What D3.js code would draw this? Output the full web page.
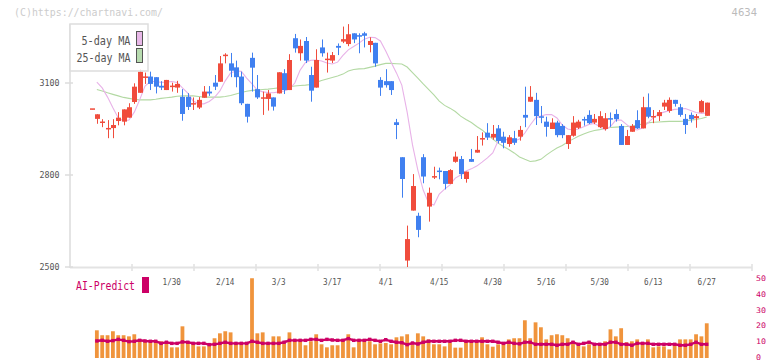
<!DOCTYPE html>
<html><head><meta charset="utf-8">
<script src="https://cdn.jsdelivr.net/npm/d3@7"></script>
<style>html,body{margin:0;padding:0;background:#fff;}svg{display:block;}</style>
</head><body>
<svg id="c" width="772" height="361"></svg>
<script>
const dates = ["1/8","1/9","1/10","1/14","1/15","1/16","1/17","1/20","1/21","1/22","1/23","1/24","1/27","1/28","1/29","1/30","1/31",
"2/3","2/4","2/5","2/6","2/7","2/10","2/12","2/13","2/14","2/17","2/18","2/19","2/20","2/21","2/25","2/26","2/27","2/28",
"3/3","3/4","3/5","3/6","3/7","3/10","3/11","3/12","3/13","3/14","3/17","3/18","3/19","3/21","3/24","3/25","3/26","3/27","3/28","3/31",
"4/1","4/2","4/3","4/4","4/7","4/8","4/9","4/10","4/11","4/14","4/15","4/16","4/17","4/18","4/21","4/22","4/23","4/24","4/25","4/28","4/30",
"5/1","5/2","5/7","5/8","5/9","5/12","5/13","5/14","5/15","5/16","5/19","5/20","5/21","5/22","5/23","5/26","5/27","5/28","5/29","5/30",
"6/2","6/3","6/4","6/5","6/6","6/9","6/10","6/11","6/12","6/13","6/16","6/17","6/18","6/19","6/20","6/23","6/24","6/25","6/26","6/27"];
const openP  = [3014,2983,2969,2948,2953,2976,2974,2987,3038,3068,3117,3121,3119,3091,3077,3087,3085,3055,3055,3030,3020,3052,3072,3101,3104,3188,3164,3151,3121,3032,
3182,3080,3049,3048,3053,3066,3132,3077,3246,3197,3237,3126,3085,3216,3173,3173,3221,3235,3227,3262,3256,3262,3224,3231,3110,3106,3106,2972,2858,2521,
2684,2667,2858,2697,2792,2812,2813,2771,2843,2852,2787,2852,2873,2916,2938,2922,2952,2925,2901,2920,2925,2996,3039,3045,2989,2974,2950,2971,2960,2901,
2928,2954,2980,2996,2971,2956,2950,2983,2999,2960,2898,2941,2979,2952,3021,2987,2992,3023,3009,3045,3021,2983,2996,2985,3004,2993];
const highP  = [3015,2998,2982,2979,2982,3005,3014,3034,3099,3145,3134,3137,3119,3106,3110,3101,3107,3080,3067,3053,3054,3090,3090,3126,3188,3197,3198,3173,3137,3032,
3199,3126,3072,3077,3053,3135,3145,3194,3260,3242,3250,3153,3210,3242,3199,3201,3229,3284,3292,3262,3262,3267,3249,3231,3119,3145,3106,2983,2858,2635,
2803,2677,2868,2759,2827,2824,2813,2819,2876,2862,2811,2885,2927,2939,2969,2963,2963,2941,2930,2944,2960,3088,3090,3068,3025,2990,2985,2977,2966,2930,
2992,2980,2990,3011,2999,3008,3002,3004,3014,2966,2947,2966,3011,3055,3066,3012,3012,3045,3053,3045,3032,2999,3004,2999,3045,3036];
const lowP   = [3014,2967,2956,2920,2920,2962,2962,2987,3032,3068,3097,3077,3066,3077,3077,3072,3068,2977,3012,3012,3015,3052,3058,3077,3104,3164,3119,3086,3028,2971,
3072,3048,2996,3010,3010,3066,3064,3077,3199,3173,3165,3039,3085,3186,3134,3165,3191,3230,3220,3230,3197,3216,3200,3153,3058,3085,3061,2917,2726,2500,
2684,2597,2773,2648,2787,2786,2753,2771,2840,2787,2775,2843,2873,2896,2914,2915,2903,2887,2892,2898,2912,2956,3039,2963,2969,2925,2950,2923,2920,2885,
2925,2950,2961,2966,2966,2953,2945,2957,2974,2898,2898,2941,2950,2952,2985,2969,2976,3012,3003,3023,2990,2934,2971,2954,3004,2993];
const closeP = [3015,2998,2972,2951,2963,2987,3014,3021,3088,3137,3119,3097,3088,3085,3110,3089,3097,2999,3022,3032,3045,3072,3066,3088,3164,3190,3140,3119,3034,2990,
3150,3053,3051,3066,3023,3135,3077,3175,3213,3221,3173,3075,3175,3197,3177,3191,3215,3243,3259,3242,3251,3254,3237,3164,3085,3093,3077,2963,2787,2591,
2764,2621,2795,2742,2794,2808,2771,2816,2860,2803,2811,2843,2882,2918,2922,2934,2911,2905,2923,2905,2947,2987,3055,2992,2987,2957,2971,2930,2930,2930,
2971,2974,2978,2969,2983,2992,2985,2980,2982,2898,2927,2960,2952,3021,2990,2990,3005,3036,3045,3032,2996,2963,2982,2992,3041,3036];
const ma5 = [null,3103,3084,3054,3019,2986,2976,2979,3005,3045,3090,3105,3105,3102,3103,3105,3102,3084,3067,3041,3032,3032,3040,3053,3074,3107,3133,3139,3138,3116,
3097,3077,3071,3069,3068,3071,3074,3080,3100,3142,3167,3174,3175,3172,3165,3162,3168,3190,3208,3219,3230,3243,3249,3248,3237,3204,3168,3133,3093,3005,
2898,2816,2751,2709,2702,2738,2754,2768,2790,2800,2813,2820,2829,2842,2856,2872,2911,2917,2914,2911,2917,2937,2963,2986,2992,2997,2997,2986,2963,2950,
2947,2950,2957,2965,2968,2958,2947,2958,2979,2979,2965,2950,2947,2953,2970,2986,2999,3005,3010,3014,3015,3017,3010,3004,3001,3002];
const ma25 = [null,3079,3074,3068,3063,3058,3053,3050,3047,3045,3045,3045,3047,3050,3052,3054,3057,3058,3058,3058,3056,3054,3054,3054,3054,3056,3059,3064,3069,3073,
3076,3077,3079,3080,3082,3084,3086,3088,3090,3092,3093,3095,3102,3108,3113,3118,3123,3129,3139,3144,3146,3147,3151,3155,3160,3164,3164,3163,3162,3152,
3134,3116,3097,3079,3061,3041,3027,3018,3007,2992,2981,2971,2958,2947,2932,2917,2904,2893,2883,2872,2859,2851,2844,2846,2851,2865,2877,2888,2896,2908,
2917,2926,2934,2940,2945,2948,2952,2955,2956,2957,2958,2960,2963,2966,2970,2972,2973,2974,2975,2975,2975,2976,2979,2981,2984,2989];
const volume = [null,17.4,14.3,14.3,16.8,14.3,14.3,13.6,14.9,11.7,10.5,10.5,9.8,10.5,9.2,6.7,6.7,19.9,10.5,9.2,7.3,7.3,9.2,12.4,15.5,16.8,16.1,9.2,9.2,9.8,
50.1,15.5,16.1,9.2,13.6,13.6,9.2,16.1,11.1,10.5,8.0,10.5,14.9,8.6,6.7,8.0,8.0,11.7,14.9,6.7,10.5,11.7,10.5,8.6,9.2,9.4,8.6,13.0,13.6,14.9,
8.4,15.5,13.6,11.7,8.6,8.6,7.3,9.4,6.5,6.5,9.9,9.9,9.9,13.0,8.6,7.1,8.6,9.6,11.7,12.4,12.4,23.7,12.4,22.4,19.3,11.7,14.3,14.9,14.3,12.4,
10.5,8.6,7.3,8.6,8.0,8.0,10.5,18.0,13.6,18.7,9.9,10.5,11.7,9.9,11.7,6.7,7.3,7.3,5.4,8.0,11.7,11.7,11.7,14.9,13.6,21.8];
const aiPredict = [null,10.7,11.1,10.5,10.9,11.7,11.1,10.3,10.5,11.1,10.7,10.5,10.5,9.2,9.9,9.2,9.2,10.1,9.9,9.2,9.2,9.2,8.4,8.6,9.2,9.9,9.2,9.2,9.2,9.2,
10.5,9.9,9.2,9.2,9.2,9.2,9.9,11.1,11.1,11.1,11.1,11.7,11.7,11.1,11.7,11.3,11.1,11.1,12.2,11.1,11.1,11.1,11.7,11.1,10.5,11.5,10.5,9.9,9.6,8.4,
9.4,8.8,9.9,10.5,10.5,10.5,10.5,10.5,11.1,11.1,10.5,10.5,10.5,10.5,10.5,10.5,9.9,9.2,9.9,9.2,8.9,9.9,9.9,8.6,8.6,8.6,8.6,8.0,8.6,8.6,
9.9,8.6,9.2,9.9,8.6,8.6,8.6,9.9,9.9,8.6,8.6,8.0,9.2,9.2,9.2,8.6,8.6,8.6,8.6,8.6,8.0,8.0,8.6,9.9,8.6,8.6];
const dateTicks = ["1/30","2/14","3/3","3/17","4/1","4/15","4/30","5/16","5/30","6/13","6/27"];
const priceTicks = [2500, 2800, 3100];
const volTicks = [0, 10, 20, 30, 40, 50];

const svg = d3.select("#c");
const RED = "#f04c3c", BLUE = "#4080f0", AI = "#cc0066";
const x = d3.scalePoint().domain(dates).range([91.5, 706.75]);
const y = d3.scaleLinear().domain([2500, 3100]).range([267, 83]);
const yv = d3.scaleLinear().domain([0, 50]).range([358, 278.4]);
const gridX = d3.scaleLinear().domain([0, 11]).range([70, 752]);
const mono = "'DejaVu Sans Mono', monospace";

// watermark and code
svg.append("text").attr("x", 14).attr("y", 16).attr("fill", "#cccccc").attr("font-family", mono)
  .attr("font-size", 11).attr("textLength", 149).attr("lengthAdjust", "spacingAndGlyphs").text("(C)https://chartnavi.com/");
svg.append("text").attr("x", 757).attr("y", 16).attr("text-anchor", "end").attr("fill", "#bbbbbb")
  .attr("font-family", "'DejaVu Sans', sans-serif").attr("font-size", 10).text("4634");

// axes
const axisG = svg.append("g");
axisG.append("line").attr("x1", 70).attr("x2", 70).attr("y1", 24).attr("y2", 268).attr("stroke", "#e0e0e0").attr("stroke-width", 1.7);
axisG.append("line").attr("x1", 70).attr("x2", 752).attr("y1", 267.5).attr("y2", 267.5).attr("stroke", "#e3e3e3").attr("stroke-width", 2);
axisG.selectAll(".gt").data(d3.range(1, 12)).join("line")
  .attr("x1", d => gridX(d)).attr("x2", d => gridX(d)).attr("y1", 264).attr("y2", 271)
  .attr("stroke", "#e3e3e3").attr("stroke-width", 1.6);
axisG.selectAll(".pt").data(priceTicks).join("line")
  .attr("x1", 65).attr("x2", 73).attr("y1", d => y(d)).attr("y2", d => y(d)).attr("stroke", "#dddddd").attr("stroke-width", 1.5);
axisG.selectAll(".pl").data(priceTicks).join("text")
  .attr("x", 59.5).attr("y", d => y(d) + 2.8).attr("text-anchor", "end").attr("fill", "#555")
  .attr("font-family", mono).attr("font-size", 8).attr("textLength", 20).attr("lengthAdjust", "spacingAndGlyphs").text(d => d);
axisG.selectAll(".dl").data(dateTicks).join("text")
  .attr("x", d => x(d)).attr("y", 285).attr("text-anchor", "middle").attr("fill", "#555")
  .attr("font-family", mono).attr("font-size", 8).attr("textLength", d => d.length * 4.6).attr("lengthAdjust", "spacingAndGlyphs").text(d => d);
axisG.selectAll(".vl").data(volTicks).join("text")
  .attr("x", 756).attr("y", d => yv(d) + 2.3).attr("fill", AI)
  .attr("font-family", mono).attr("font-size", 7.6).attr("textLength", d => String(d).length * 5).attr("lengthAdjust", "spacingAndGlyphs").text(d => d);

// volume bars
const vg = svg.append("g");
vg.selectAll("rect").data(dates.map((d, i) => ({d, v: volume[i]})).filter(e => e.v != null)).join("rect")
  .attr("x", e => x(e.d) - 1.9).attr("width", 3.8)
  .attr("y", e => yv(e.v)).attr("height", e => yv(0) - yv(e.v)).attr("fill", "#f0943c");

// AI predict line
const aiData = dates.map((d, i) => ({d, v: aiPredict[i]})).filter(e => e.v != null);
svg.append("path").datum(aiData).attr("fill", "none").attr("stroke", AI).attr("stroke-width", 2.4)
  .attr("d", d3.line().x(e => x(e.d)).y(e => yv(e.v)));
svg.append("g").selectAll("rect").data(aiData).join("rect")
  .attr("x", e => x(e.d) - 1.7).attr("y", e => yv(e.v) - 1.7).attr("width", 3.4).attr("height", 3.4).attr("fill", AI);

// moving averages
const lineGen = d3.line().defined(e => e.v != null).x(e => x(e.d)).y(e => y(e.v));
svg.append("path").datum(dates.map((d, i) => ({d, v: ma25[i]}))).attr("fill", "none")
  .attr("stroke", "#b3d9a3").attr("stroke-width", 1.1).attr("d", lineGen);
svg.append("path").datum(dates.map((d, i) => ({d, v: ma5[i]}))).attr("fill", "none")
  .attr("stroke", "#e8b2e8").attr("stroke-width", 1.1).attr("d", lineGen);

// candles
const candles = dates.map((d, i) => ({d, o: openP[i], h: highP[i], l: lowP[i], c: closeP[i]}));
const cg = svg.append("g").selectAll("g").data(candles).join("g");
cg.append("line").attr("x1", e => Math.round(x(e.d)) + 0.5).attr("x2", e => Math.round(x(e.d)) + 0.5)
  .attr("y1", e => y(e.h)).attr("y2", e => y(e.l)).attr("stroke", e => e.c >= e.o ? RED : BLUE).attr("stroke-width", 1);
cg.append("rect").attr("x", e => Math.round(x(e.d)) - 2).attr("width", 5)
  .attr("y", e => Math.min(y(e.o), y(e.c)) - (Math.abs(y(e.o) - y(e.c)) < 1.5 ? 0.75 : 0))
  .attr("height", e => Math.max(1.5, Math.abs(y(e.o) - y(e.c))))
  .attr("fill", e => e.c >= e.o ? RED : BLUE);

// legend
const lg = svg.append("g");
lg.append("rect").attr("x", 70).attr("y", 24).attr("width", 78).attr("height", 47)
  .attr("fill", "#fff").attr("fill-opacity", 0.85).attr("stroke", "#dddddd").attr("stroke-width", 1.5);
const legendItems = [{t: "5-day MA", c: "#e8b8e8", w: 49}, {t: "25-day MA", c: "#b8dcb0", w: 54}];
legendItems.forEach((it, k) => {
  lg.append("text").attr("x", 130.5).attr("y", 44.5 + k * 17).attr("text-anchor", "end").attr("fill", "#555")
    .attr("font-family", mono).attr("font-size", 12.5).attr("textLength", it.w).attr("lengthAdjust", "spacingAndGlyphs").text(it.t);
  lg.append("rect").attr("x", 136.5).attr("y", 31.5 + k * 17).attr("width", 6).attr("height", 14)
    .attr("fill", it.c).attr("stroke", "#555").attr("stroke-width", 1);
});

// AI legend
svg.append("text").attr("x", 76).attr("y", 290).attr("fill", AI).attr("font-family", mono)
  .attr("font-size", 11.5).attr("textLength", 59).attr("lengthAdjust", "spacingAndGlyphs").text("AI-Predict");
svg.append("rect").attr("x", 142).attr("y", 277).attr("width", 7).attr("height", 16).attr("fill", AI);
</script>
</body></html>
